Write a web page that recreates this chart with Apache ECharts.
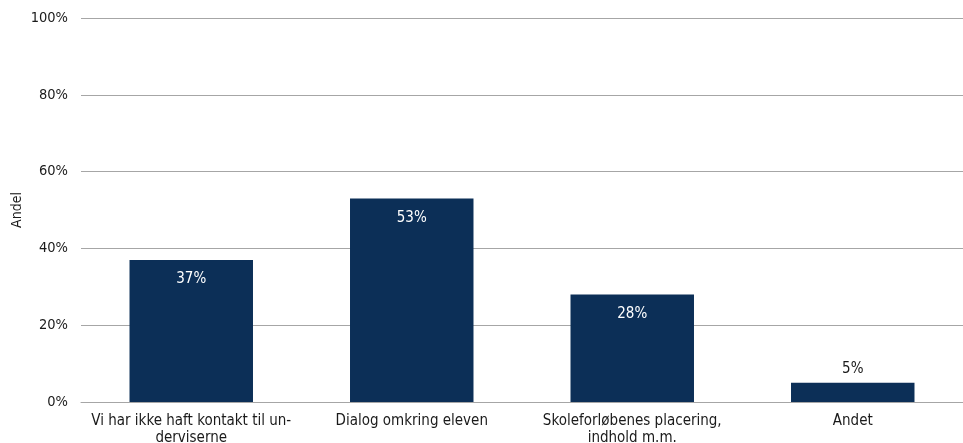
<!DOCTYPE html>
<html>
<head>
<meta charset="utf-8">
<script src="https://cdn.jsdelivr.net/npm/echarts@6/dist/echarts.min.js"></script>
<style>
  html, body { margin: 0; padding: 0; background: #fff; }
  #chart { width: 963px; height: 443px; }
</style>
</head>
<body>
<div id="chart"></div>
<script>
const categories = [
  'Vi har ikke haft kontakt til un-\nderviserne',
  'Dialog omkring eleven',
  'Skoleforløbenes placering,\nindhold m.m.',
  'Andet'
];
const shares = [37, 53, 28, 5];
const yTicks = [0, 20, 40, 60, 80, 100];

const FONT = 'DejaVu Sans Condensed, DejaVu Sans, sans-serif';
const chart = echarts.init(document.getElementById('chart'));

chart.setOption({
  animation: false,
  textStyle: { fontFamily: FONT },
  grid: { left: 81, right: 0, top: 18, bottom: 41, containLabel: false, outerBoundsMode: 'none' },
  xAxis: {
    type: 'category',
    data: categories,
    axisTick: { show: false },
    axisLine: { lineStyle: { color: '#a6a6a6', width: 1 } },
    axisLabel: { color: '#1a1a1a', fontSize: 15, fontFamily: FONT, margin: 11, lineHeight: 17, interval: 0 }
  },
  yAxis: {
    type: 'value',
    min: yTicks[0],
    max: yTicks[yTicks.length - 1],
    interval: 20,
    name: 'Andel',
    nameLocation: 'middle',
    nameGap: 57,
    nameMoveOverlap: false,
    nameTextStyle: { color: '#1a1a1a', fontSize: 14, fontFamily: FONT },
    axisLine: { show: false },
    axisTick: { show: false },
    splitLine: { lineStyle: { color: '#a6a6a6', width: 1 } },
    axisLabel: { color: '#1a1a1a', fontSize: 14.5, fontFamily: FONT, margin: 13, formatter: v => v + '%' }
  },
  series: [{
    type: 'bar',
    barWidth: '56%',
    itemStyle: { color: '#0c2f57' },
    data: shares.map(v => ({
      value: v,
      label: v < 10
        ? { show: true, position: 'top', distance: 6, color: '#1a1a1a' }
        : { show: true, position: 'insideTop', distance: 12, color: '#ffffff' }
    })),
    label: { fontSize: 15, fontFamily: FONT, formatter: p => p.value + '%' }
  }]
});
</script>
</body>
</html>
